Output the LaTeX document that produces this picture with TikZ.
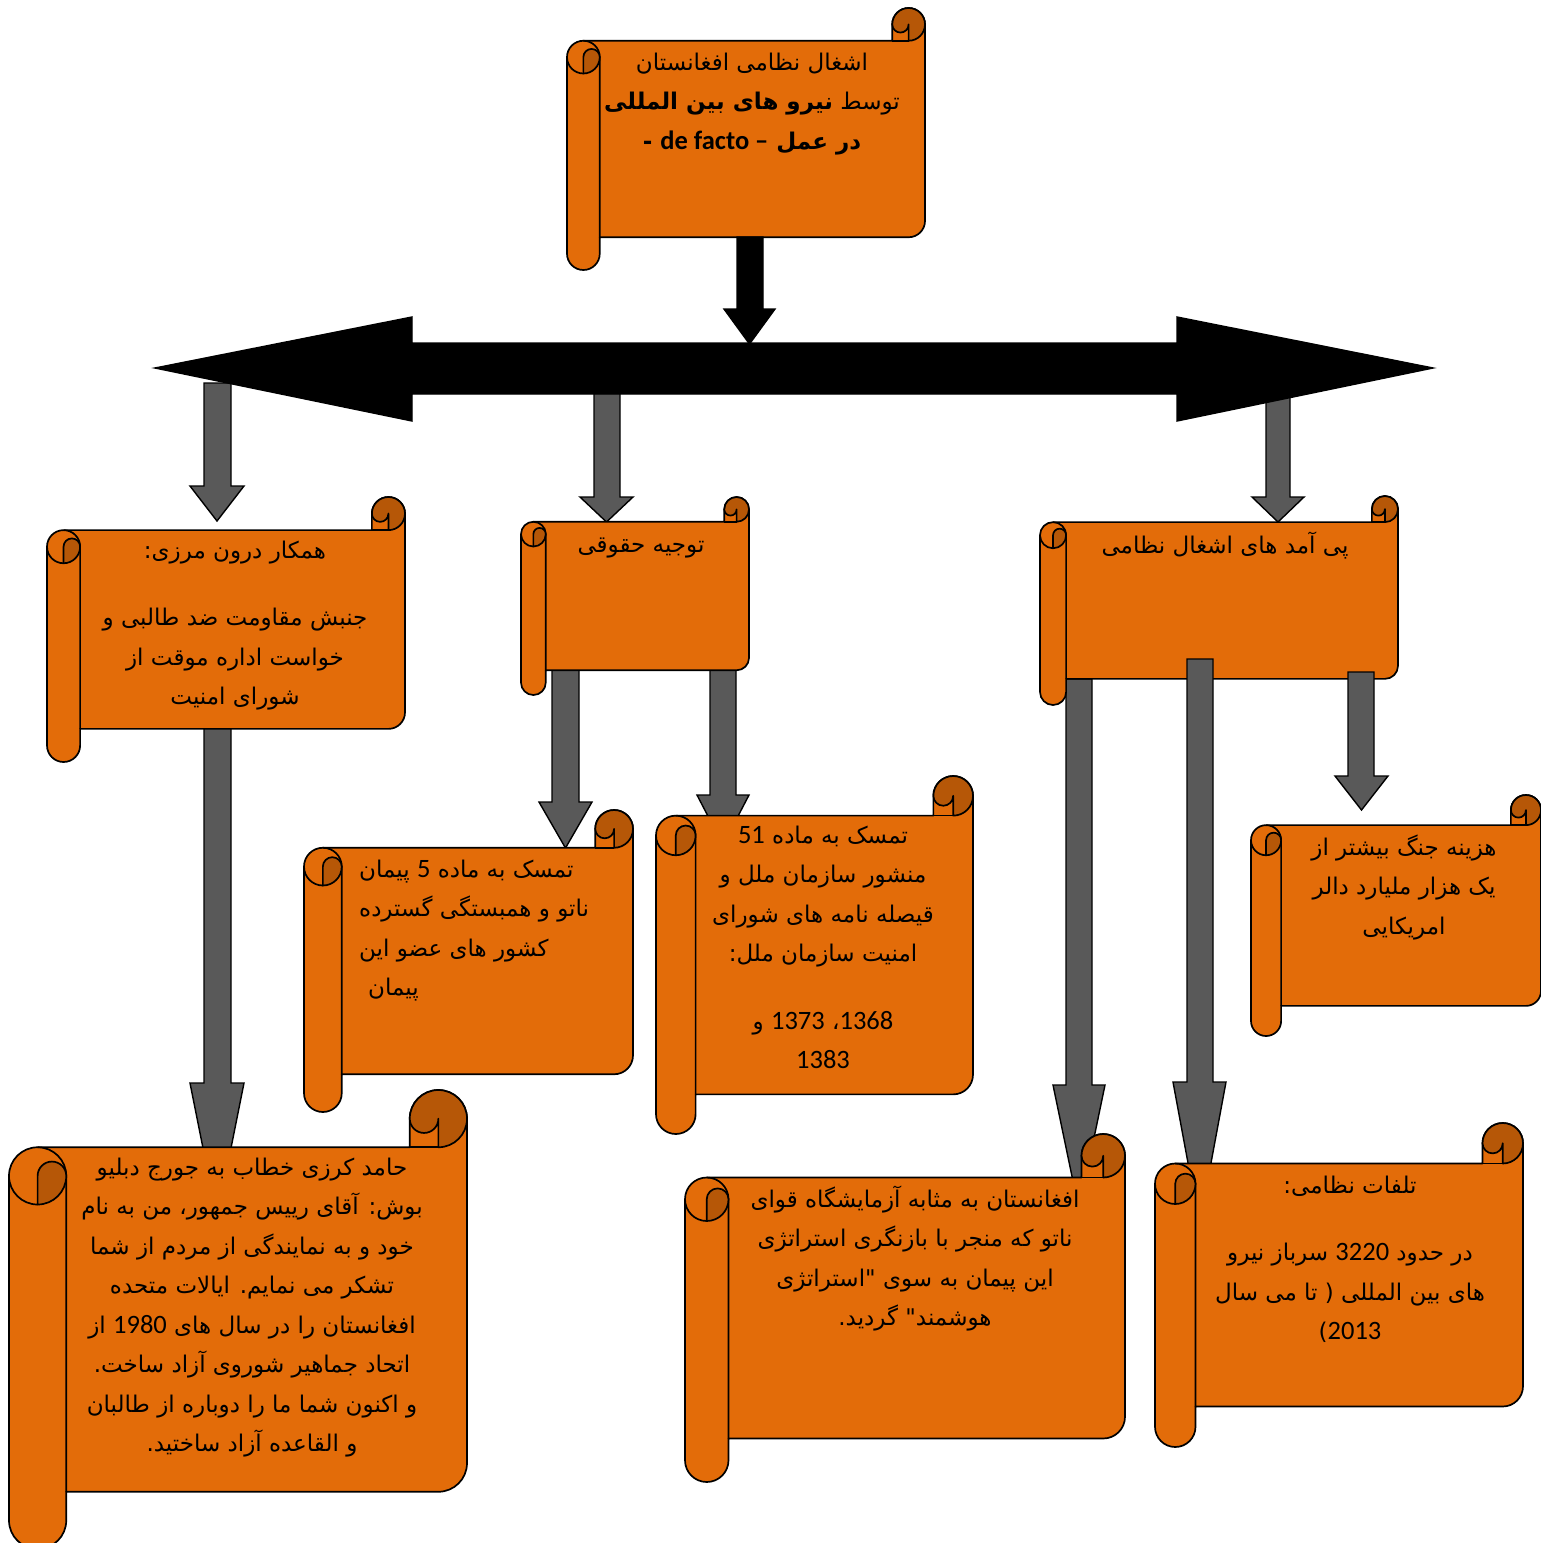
\documentclass[tikz,border=0pt]{standalone}
\usepackage{fontspec}
\newfontfamily\fafont[Script=Arabic]{DejaVu Sans}
\newfontfamily\latinfont{Carlito}
\TeXXeTstate=1
\definecolor{scrollfill}{RGB}{227,108,9}
\definecolor{scrolldark}{RGB}{182,87,7}
\definecolor{arrowgray}{RGB}{89,89,89}
\newcommand{\fa}[1]{\rule[-13.5pt]{0pt}{39.5pt}\beginR #1\endR}
\newcommand{\nm}[1]{{\latinfont\fontsize{26.5}{39.5}\selectfont #1}}
% vertical scroll: left, top, right, bottom (pixels, y downwards)
\newcommand{\scrollshape}[4]{%
  \pgfmathsetmacro\sxL{#1}\pgfmathsetmacro\sxR{#3}%
  \pgfmathsetmacro\sxT{-#2}\pgfmathsetmacro\sxB{-#4}%
  \pgfmathsetmacro\sxc{0.125*min(#3-#1,#4-#2)}%
  \pgfmathsetmacro\sxh{\sxc/2}\pgfmathsetmacro\sxq{\sxc/4}%
  \filldraw[scrollline, fill=scrollfill] ({\sxL},{\sxB+\sxh}) -- ({\sxL},{\sxT-\sxc-\sxh})
    arc[start angle=180, end angle=90, radius=\sxh] -- ({\sxR-\sxc},{\sxT-\sxc})
    -- ({\sxR-\sxc},{\sxT-\sxh}) arc[start angle=180, end angle=0, radius=\sxh]
    -- ({\sxR},{\sxB+\sxc+\sxh}) arc[start angle=0, end angle=-90, radius=\sxh]
    -- ({\sxL+\sxc},{\sxB+\sxc}) -- ({\sxL+\sxc},{\sxB+\sxh})
    arc[start angle=0, end angle=-180, radius=\sxh] -- cycle;
  \draw[scrollline] ({\sxL+\sxh},{\sxT-\sxc}) arc[start angle=90, end angle=0, radius=\sxh]
    -- ({\sxL+\sxc},{\sxB+\sxc});
  \draw[scrollline] ({\sxL},{\sxT-\sxc-\sxh}) arc[start angle=180, end angle=270, radius=\sxh];
  \filldraw[scrollline, fill=scrolldark] ({\sxL+\sxh},{\sxT-\sxc-\sxh})
    arc[start angle=180, end angle=0, radius=\sxq]
    arc[start angle=0, end angle=-90, radius=\sxh] -- cycle;
  \filldraw[scrollline, fill=scrolldark] ({\sxR-\sxc},{\sxT-\sxh})
    arc[start angle=180, end angle=0, radius=\sxh]
    arc[start angle=0, end angle=-90, radius=\sxh] -- ({\sxR-\sxh},{\sxT-\sxh})
    arc[start angle=0, end angle=-180, radius=\sxq] -- cycle;
  \draw[scrollline] ({\sxR-\sxc},{\sxT-\sxc}) -- ({\sxR-\sxh},{\sxT-\sxc});
}
% block arrow down: shaft x1 x2, top, head start, head x1 x2, tip
\newcommand{\grayarrow}[7]{%
  \filldraw[arrowline, fill=arrowgray] (#1,-#3) -- (#2,-#3) -- (#2,-#4) -- (#6,-#4)
    -- ({(#5+#6)/2},-#7) -- (#5,-#4) -- (#1,-#4) -- cycle;}

\begin{document}
\begin{tikzpicture}[x=1pt, y=1pt,
    scrollline/.style={draw=black, line width=1.7pt, line join=round},
    arrowline/.style={draw=black, line width=1.4pt, line join=miter},
    scrolltext/.style={font={\fafont\fontsize{23}{39.5}\selectfont}, inner sep=0pt, align=center, anchor=north}]
  \path[use as bounding box, fill=white] (0,0) rectangle (1541,-1543);

  \grayarrow{204}{231}{383}{486}{190}{244}{521}
  \grayarrow{594}{620}{393}{497}{580}{633}{522}
  \grayarrow{1266}{1290}{393}{497}{1252}{1304}{522}
  \grayarrow{204}{231}{728}{1083}{190}{244}{1218}
  \grayarrow{552}{579}{670}{802}{539}{592}{848}
  \grayarrow{710}{736}{670}{795}{697}{749}{845}
  \grayarrow{1066}{1092}{679}{1085}{1053}{1105}{1210}

  \scrollshape{567}{8}{925}{270}
  \scrollshape{47}{497}{405}{762}
  \scrollshape{521}{497}{749}{695}
  \scrollshape{1040}{496}{1398}{705}

  \grayarrow{1187}{1213}{659}{1082}{1173}{1226}{1225}
  \grayarrow{1348}{1374}{672}{776}{1335}{1388}{810}

  \scrollshape{304}{810}{633}{1112}
  \scrollshape{656}{776}{973}{1134}
  \scrollshape{1251}{795}{1541}{1036}
  \scrollshape{9}{1090}{467}{1549}
  \scrollshape{685}{1134}{1125}{1482}
  \scrollshape{1155}{1123}{1523}{1447}

  \filldraw[arrowline, fill=black] (737,-237) -- (763,-237) -- (763,-309) -- (775,-309)
    -- (749.5,-344) -- (724,-309) -- (737,-309) -- cycle;
  \filldraw[arrowline, fill=black] (155,-368) -- (412,-317) -- (412,-343) -- (1177,-343)
    -- (1177,-317) -- (1433,-368) -- (1177,-421) -- (1177,-394) -- (412,-394)
    -- (412,-421) -- cycle;

  \node[scrolltext] (occupation) at (752,-44) {%
    \fa{اشغال نظامی افغانستان}\\
    \fa{توسط \textbf{نیرو های بین المللی}}\\
    \fa{\bfseries در عمل {\latinfont\fontsize{26.5}{39.5}\selectfont – \beginL de facto\endL} -}};
  \node[scrolltext] (partner) at (235,-532) {%
    \fa{همکار درون مرزی{}:}\\[28pt]
    \fa{جنبش مقاومت ضد طالبی  و}\\
    \fa{خواست اداره موقت از}\\
    \fa{شورای امنیت}};
  \node[scrolltext] (legal) at (641,-526) {\fa{توجیه حقوقی}};
  \node[scrolltext] (effects) at (1225,-527) {\fa{پی آمد های اشغال نظامی}};
  \node[scrolltext, align=left, anchor=north west] (nato) at (359,-851) {%
    \fa{تمسک به ماده \nm{5} پیمان}\\
    \fa{ناتو و  همبستگی گسترده}\\
    \fa{کشور های عضو این}\\
    \fa{پیمان\hspace{9pt}}};
  \node[scrolltext] (charter) at (823,-817) {%
    \fa{تمسک به ماده \nm{51}}\\
    \fa{منشور سازمان ملل  و}\\
    \fa{قیصله نامه های شورای}\\
    \fa{امنیت سازمان ملل{}:}\\[28pt]
    \fa{\nm{1368}{}، \nm{1373} و}\\
    \fa{\nm{1383}}};
  \node[scrolltext] (cost) at (1404,-829) {%
    \fa{هزینه جنگ بیشتر از}\\
    \fa{یک هزار ملیارد دالر}\\
    \fa{امریکایی}};
  \node[scrolltext] (karzai) at (252,-1149) {%
    \fa{حامد کرزی خطاب به جورج دبلیو}\\
    \fa{بوش{}: آقای رییس جمهور{}، من به نام}\\
    \fa{خود و به نمایندگی از مردم از شما}\\
    \fa{تشکر می نمایم{}. ایالات متحده}\\
    \fa{افغانستان را در سال های \nm{1980} از}\\
    \fa{اتحاد جماهیر شوروی آزاد ساخت{}.}\\
    \fa{و اکنون شما ما را دوباره از طالبان}\\
    \fa{و القاعده آزاد ساختید{}.}};
  \node[scrolltext] (lab) at (915,-1181) {%
    \fa{افغانستان به مثابه آزمایشگاه قوای}\\
    \fa{ناتو که منجر با بازنگری استراتژی}\\
    \fa{این پیمان به سوی "{}استراتژی}\\
    \fa{هوشمند{}" گردید{}.}};
  \node[scrolltext] (losses) at (1350,-1167) {%
    \fa{تلفات نظامی{}:}\\[28pt]
    \fa{در حدود \nm{3220} سرباز نیرو}\\
    \fa{های بین المللی {}({} تا می سال}\\
    \fa{\nm{2013}{})}};
\end{tikzpicture}
\end{document}
